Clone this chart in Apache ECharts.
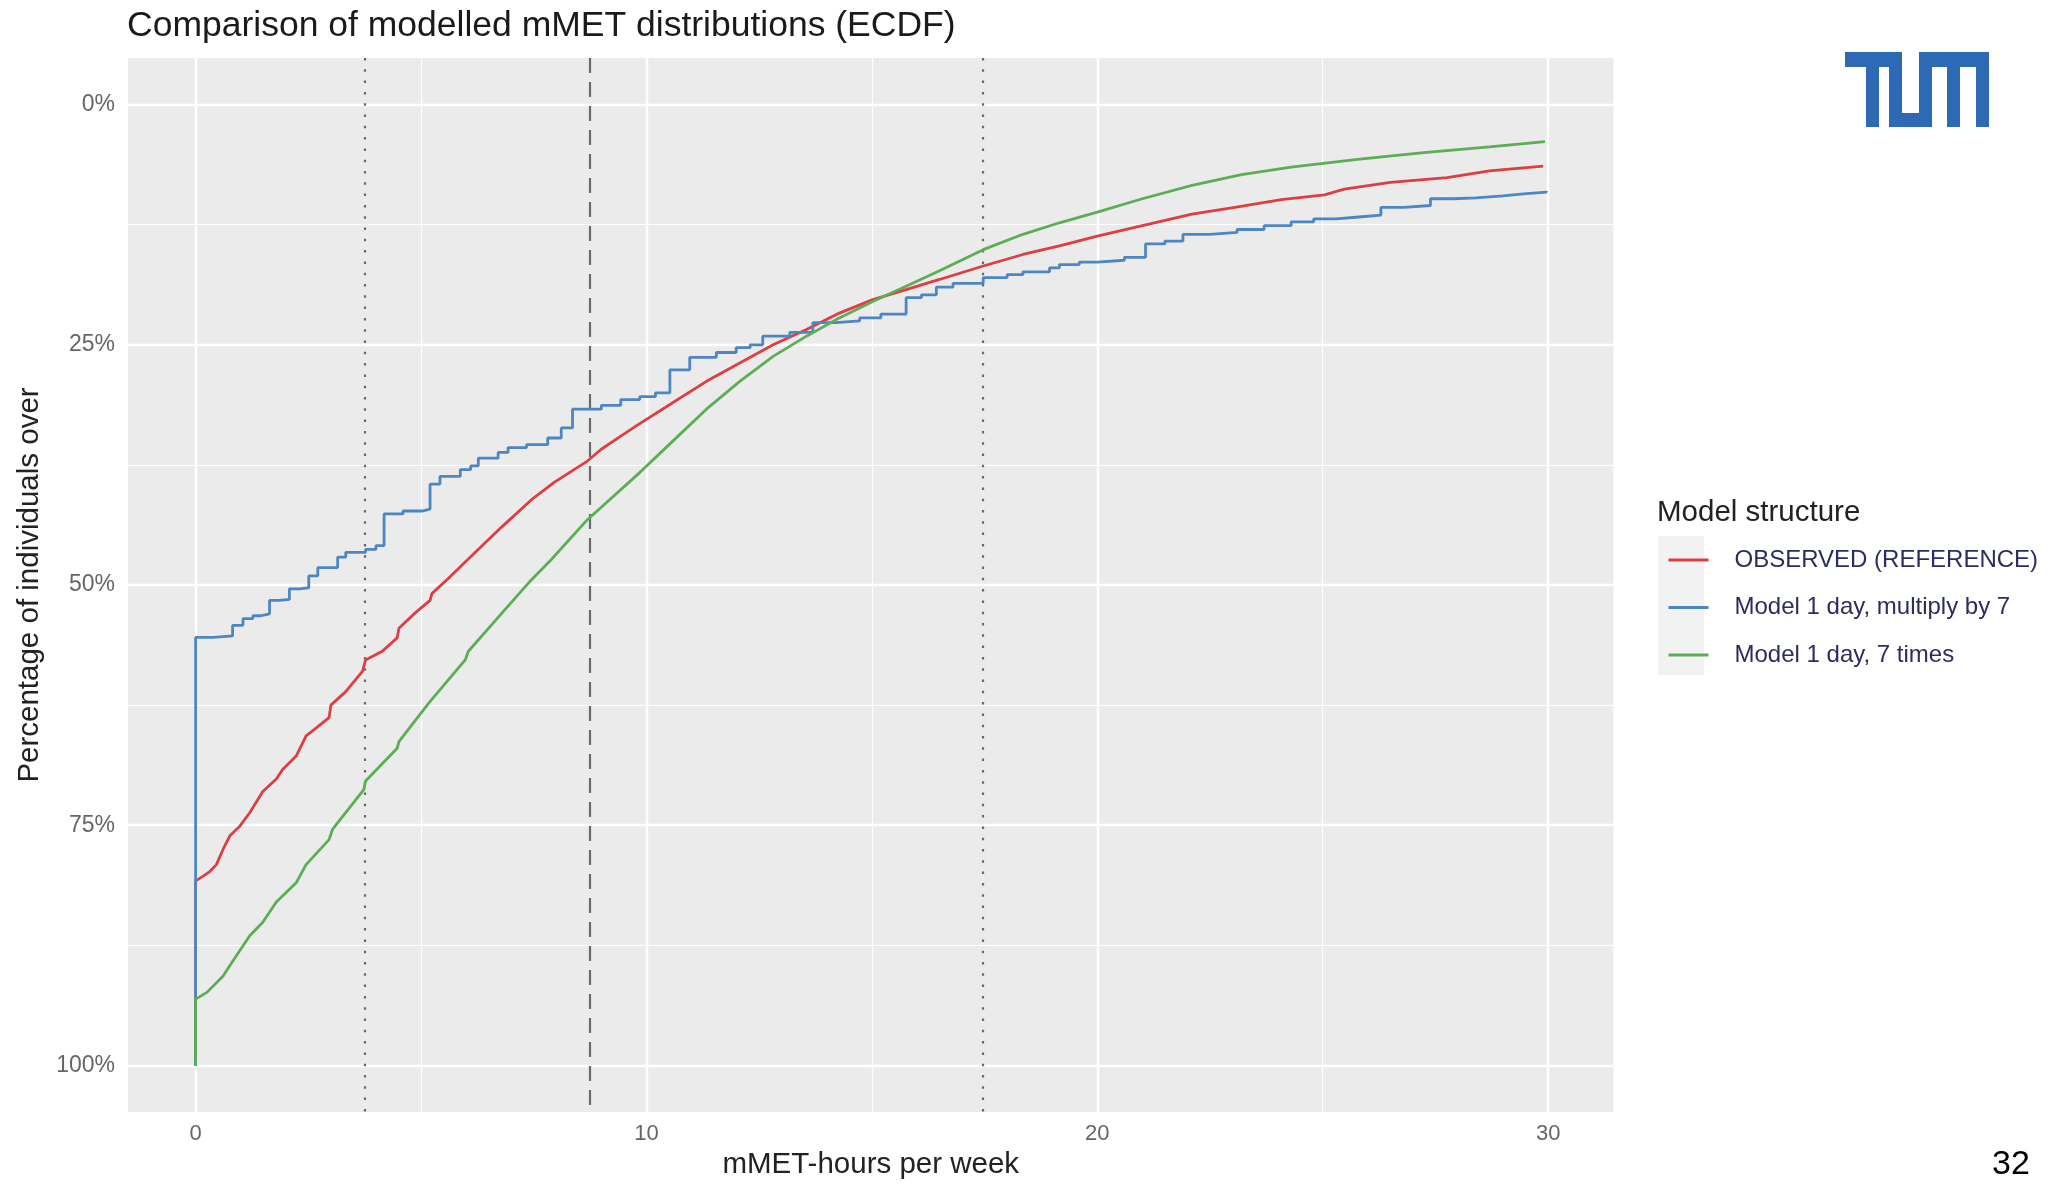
<!DOCTYPE html>
<html><head><meta charset="utf-8">
<script src="https://cdn.jsdelivr.net/npm/echarts@6/dist/echarts.min.js"></script>
<style>html,body{margin:0;padding:0;background:#fff;}#c{width:2059px;height:1185px;}</style>
</head><body><div id="c"></div>
<script>
// ---- data (x = mMET-hours per week, y = percentage) ----
const seriesNames = ['OBSERVED (REFERENCE)', 'Model 1 day, multiply by 7', 'Model 1 day, 7 times'];
const observed = [[0,100],[0,80.8],[0.17,80.3],[0.32,79.8],[0.46,79.1],[0.61,77.5],[0.76,76.1],[0.98,75.1],[1.2,73.7],[1.49,71.5],[1.79,70.2],[1.93,69.2],[2.23,67.8],[2.45,65.7],[2.67,64.9],[2.96,63.8],[3.0,62.5],[3.33,61.1],[3.7,59.0],[3.77,57.8],[4.14,56.9],[4.47,55.5],[4.51,54.5],[4.87,52.9],[5.2,51.6],[5.24,50.9],[5.61,49.3],[5.98,47.6],[6.78,44.0],[7.48,41.0],[7.96,39.3],[8.69,37.1],[8.99,35.9],[9.43,34.5],[9.85,33.2],[10.59,31.0],[11.33,28.8],[12.07,26.9],[12.81,25.0],[13.55,23.4],[14.28,21.7],[15.02,20.3],[15.76,19.25],[16.5,18.2],[17.47,16.8],[18.35,15.6],[19.16,14.7],[20.0,13.7],[21.0,12.6],[22.1,11.4],[23.05,10.7],[24.08,9.9],[25.04,9.4],[25.48,8.8],[26.5,8.1],[27.76,7.6],[28.7,6.9],[29.89,6.4]];
const multiplyBy7 = [[0,100],[0,55.45],[0.39,55.3],[0.82,54.2],[1.05,53.5],[1.27,53.2],[1.45,53.0],[1.64,51.6],[1.85,51.5],[2.08,50.4],[2.3,50.3],[2.51,49.05],[2.71,48.2],[3.15,47.1],[3.33,46.6],[3.77,46.3],[4.0,45.9],[4.18,42.6],[4.6,42.3],[5.02,42.1],[5.2,39.5],[5.42,38.7],[5.87,38.0],[6.1,37.6],[6.27,36.8],[6.71,36.2],[6.93,35.7],[7.34,35.4],[7.81,34.7],[8.11,33.65],[8.36,31.7],[9.0,31.3],[9.43,30.7],[9.85,30.4],[10.2,30.0],[10.52,27.6],[10.96,26.3],[11.55,25.8],[11.99,25.3],[12.3,25.0],[12.58,24.1],[13.18,23.7],[13.69,22.7],[14.2,22.5],[14.73,22.2],[15.2,21.8],[15.76,20.1],[16.1,19.8],[16.43,19.0],[16.8,18.6],[17.47,18.0],[18.0,17.7],[18.35,17.4],[18.94,17.0],[19.16,16.65],[19.6,16.4],[20.0,16.2],[20.6,15.9],[21.07,14.5],[21.5,14.2],[21.9,13.5],[22.5,13.3],[23.1,13.0],[23.7,12.6],[24.3,12.2],[24.8,11.9],[25.3,11.7],[25.8,11.5],[26.29,10.7],[26.8,10.5],[27.39,9.8],[27.9,9.7],[28.4,9.5],[29.0,9.3],[29.45,9.1],[29.96,9.0]];
const sevenTimes = [[0,100],[0,93.1],[0.25,92.4],[0.61,90.7],[0.76,89.6],[1.2,86.5],[1.49,85.1],[1.79,83.0],[2.23,81.0],[2.45,79.1],[2.96,76.5],[3.04,75.4],[3.73,71.3],[3.77,70.4],[4.47,67.0],[4.51,66.3],[5.17,62.3],[5.98,57.8],[6.05,56.9],[6.93,52.2],[7.44,49.5],[7.88,47.4],[8.69,43.2],[9.85,38.3],[10.59,35.0],[11.33,31.7],[12.07,28.8],[12.81,26.2],[13.55,24.1],[14.28,22.2],[15.02,20.5],[15.76,18.9],[16.5,17.3],[17.47,15.1],[18.35,13.5],[19.16,12.3],[20.0,11.2],[21.0,9.8],[22.1,8.4],[23.2,7.3],[24.3,6.5],[25.77,5.7],[27.24,5.0],[28.7,4.4],[29.93,3.85]];
const xTicks = [0, 10, 20, 30];
const xMinor = [5, 15, 25];
const yTicks = [0, 25, 50, 75, 100];
const yMinor = [12.5, 37.5, 62.5, 87.5];
const dottedLines = [3.76, 17.45];
const dashedLines = [8.74];

// ---- styling ----
const FONT = "'Liberation Sans', Arial, Helvetica, sans-serif";
const colors = ['#DD3E44', '#4D87C2', '#5BAE54'];
const logoParts = [[0,0,57,15],[21,0,13,75],[44,0,13,75],[44,61,43,14],[74,0,13,75],[74,0,70,15],[102,0,13,75],[131,0,13,75]];

const chart = echarts.init(document.getElementById('c'), null, {renderer: 'canvas'});

const gridLines = [].concat(
  xTicks.map(v => ({xAxis: v, lineStyle: {width: 2.4}})),
  xMinor.map(v => ({xAxis: v, lineStyle: {width: 1.2}})),
  yTicks.map(v => ({yAxis: v, lineStyle: {width: 2.4}})),
  yMinor.map(v => ({yAxis: v, lineStyle: {width: 1.2}}))
);
const refLines = [].concat(
  dottedLines.map(v => ({xAxis: v, lineStyle: {type: [2.5, 8.8]}})),
  dashedLines.map(v => ({xAxis: v, lineStyle: {type: [15, 9]}}))
);

const option = {
  animation: false,
  backgroundColor: '#ffffff',
  title: {
    text: 'Comparison of modelled mMET distributions (ECDF)',
    left: 127, top: 8, padding: 0,
    textStyle: {fontFamily: FONT, fontSize: 35.5, fontWeight: 'normal', color: '#1a1a1a'}
  },
  grid: {left: 128, top: 58, width: 1485.5, height: 1055.5, show: true, backgroundColor: '#EBEBEB', borderWidth: 0, containLabel: false},
  xAxis: {
    type: 'value', min: -1.5, max: 31.45,
    name: 'mMET-hours per week', nameLocation: 'middle', nameGap: 38,
    nameTextStyle: {fontFamily: FONT, fontSize: 29.5, color: '#222'},
    axisLine: {show: false},
    axisTick: {show: true, customValues: xTicks, length: 7, lineStyle: {color: '#444', width: 1.5}},
    axisLabel: {customValues: xTicks, fontFamily: FONT, fontSize: 22, color: '#666', margin: 11},
    splitLine: {show: false}
  },
  yAxis: {
    type: 'value', inverse: true, min: -4.85, max: 104.85,
    name: 'Percentage of individuals over', nameLocation: 'middle', nameGap: 79,
    nameTextStyle: {fontFamily: FONT, fontSize: 29.5, color: '#222'},
    axisLine: {show: false},
    axisTick: {show: true, customValues: yTicks, length: 7, lineStyle: {color: '#444', width: 1.5}},
    axisLabel: {customValues: yTicks, formatter: '{value}%', fontFamily: FONT, fontSize: 23, color: '#666', margin: 13},
    splitLine: {show: false}
  },
  legend: {
    orient: 'vertical', left: 1662, top: 543,
    itemWidth: 40, itemHeight: 24, itemGap: 23.5,
    selectedMode: false,
    data: seriesNames,
    itemStyle: {color: 'rgba(0,0,0,0)', borderColor: 'rgba(0,0,0,0)', borderWidth: 0, opacity: 0},
    lineStyle: {width: 3},
    textStyle: {fontFamily: FONT, fontSize: 24, color: '#2c2c5e', padding: [0, 0, 0, 21]}
  },
  graphic: [
    {type: 'rect', left: 1658, top: 536, z: 0, shape: {width: 46, height: 139}, style: {fill: '#F2F2F2'}},
    {type: 'text', left: 1657, top: 498, style: {text: 'Model structure', font: '29.5px ' + FONT, fill: '#222'}},
    {type: 'text', left: 1992, top: 1148, style: {text: '32', font: '34px ' + FONT, fill: '#000'}}
  ].concat(logoParts.map(p => ({
    type: 'rect', x: 1845 + p[0], y: 52 + p[1], shape: {width: p[2], height: p[3]}, style: {fill: '#2D69B4'}
  }))),
  series: [
    {
      type: 'line', data: [], silent: true, z: 1,
      markLine: {silent: true, symbol: 'none', z: 1, animation: false, label: {show: false},
        lineStyle: {color: '#ffffff', type: 'solid', width: 2.4}, emphasis: {disabled: true}, data: gridLines}
    },
    {
      type: 'line', data: [], silent: true, z: 1,
      markLine: {silent: true, symbol: 'none', z: 2, animation: false, label: {show: false},
        lineStyle: {color: '#6a6a6a', width: 2.2}, emphasis: {disabled: true}, data: refLines}
    },
    {name: seriesNames[0], type: 'line', data: observed, symbol: 'none', z: 3, silent: true,
      lineStyle: {color: colors[0], width: 2.8}, itemStyle: {color: colors[0]}},
    {name: seriesNames[1], type: 'line', data: multiplyBy7, step: 'end', symbol: 'none', z: 3, silent: true,
      lineStyle: {color: colors[1], width: 2.8}, itemStyle: {color: colors[1]}},
    {name: seriesNames[2], type: 'line', data: sevenTimes, symbol: 'none', z: 3, silent: true,
      lineStyle: {color: colors[2], width: 2.8}, itemStyle: {color: colors[2]}}
  ]
};
chart.setOption(option);
</script></body></html>
